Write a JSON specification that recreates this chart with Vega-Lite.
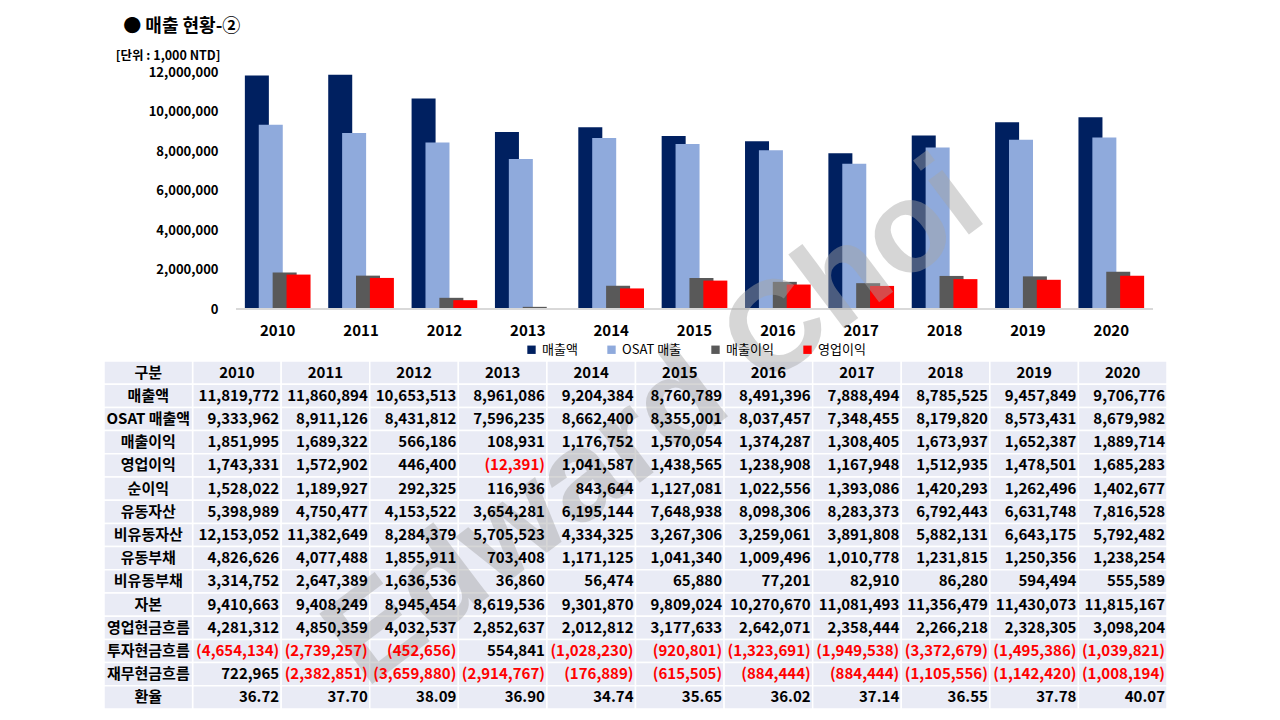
{
  "$schema": "https://vega.github.io/schema/vega-lite/v6.json",
  "padding": {"left": 103, "top": 18, "right": 113, "bottom": 8},
  "background": "white",
  "title": {
    "text": "● 매출 현황-②",
    "anchor": "start",
    "dx": 20,
    "offset": 13,
    "fontSize": 18,
    "fontWeight": "bold",
    "color": "#000000"
  },
  "datasets": {
    "bars": [
      {"year": "2010", "series": "매출액", "value": 11819772},
      {"year": "2011", "series": "매출액", "value": 11860894},
      {"year": "2012", "series": "매출액", "value": 10653513},
      {"year": "2013", "series": "매출액", "value": 8961086},
      {"year": "2014", "series": "매출액", "value": 9204384},
      {"year": "2015", "series": "매출액", "value": 8760789},
      {"year": "2016", "series": "매출액", "value": 8491396},
      {"year": "2017", "series": "매출액", "value": 7888494},
      {"year": "2018", "series": "매출액", "value": 8785525},
      {"year": "2019", "series": "매출액", "value": 9457849},
      {"year": "2020", "series": "매출액", "value": 9706776},
      {"year": "2010", "series": "OSAT 매출", "value": 9333962},
      {"year": "2011", "series": "OSAT 매출", "value": 8911126},
      {"year": "2012", "series": "OSAT 매출", "value": 8431812},
      {"year": "2013", "series": "OSAT 매출", "value": 7596235},
      {"year": "2014", "series": "OSAT 매출", "value": 8662400},
      {"year": "2015", "series": "OSAT 매출", "value": 8355001},
      {"year": "2016", "series": "OSAT 매출", "value": 8037457},
      {"year": "2017", "series": "OSAT 매출", "value": 7348455},
      {"year": "2018", "series": "OSAT 매출", "value": 8179820},
      {"year": "2019", "series": "OSAT 매출", "value": 8573431},
      {"year": "2020", "series": "OSAT 매출", "value": 8679982},
      {"year": "2010", "series": "매출이익", "value": 1851995},
      {"year": "2011", "series": "매출이익", "value": 1689322},
      {"year": "2012", "series": "매출이익", "value": 566186},
      {"year": "2013", "series": "매출이익", "value": 108931},
      {"year": "2014", "series": "매출이익", "value": 1176752},
      {"year": "2015", "series": "매출이익", "value": 1570054},
      {"year": "2016", "series": "매출이익", "value": 1374287},
      {"year": "2017", "series": "매출이익", "value": 1308405},
      {"year": "2018", "series": "매출이익", "value": 1673937},
      {"year": "2019", "series": "매출이익", "value": 1652387},
      {"year": "2020", "series": "매출이익", "value": 1889714},
      {"year": "2010", "series": "영업이익", "value": 1743331},
      {"year": "2011", "series": "영업이익", "value": 1572902},
      {"year": "2012", "series": "영업이익", "value": 446400},
      {"year": "2013", "series": "영업이익", "value": -12391},
      {"year": "2014", "series": "영업이익", "value": 1041587},
      {"year": "2015", "series": "영업이익", "value": 1438565},
      {"year": "2016", "series": "영업이익", "value": 1238908},
      {"year": "2017", "series": "영업이익", "value": 1167948},
      {"year": "2018", "series": "영업이익", "value": 1512935},
      {"year": "2019", "series": "영업이익", "value": 1478501},
      {"year": "2020", "series": "영업이익", "value": 1685283}
    ],
    "table": [
      {"row": "구분", "2010": "2010", "2011": "2011", "2012": "2012", "2013": "2013", "2014": "2014", "2015": "2015", "2016": "2016", "2017": "2017", "2018": "2018", "2019": "2019", "2020": "2020"},
      {"row": "매출액", "2010": "11,819,772", "2011": "11,860,894", "2012": "10,653,513", "2013": "8,961,086", "2014": "9,204,384", "2015": "8,760,789", "2016": "8,491,396", "2017": "7,888,494", "2018": "8,785,525", "2019": "9,457,849", "2020": "9,706,776"},
      {"row": "OSAT 매출액", "2010": "9,333,962", "2011": "8,911,126", "2012": "8,431,812", "2013": "7,596,235", "2014": "8,662,400", "2015": "8,355,001", "2016": "8,037,457", "2017": "7,348,455", "2018": "8,179,820", "2019": "8,573,431", "2020": "8,679,982"},
      {"row": "매출이익", "2010": "1,851,995", "2011": "1,689,322", "2012": "566,186", "2013": "108,931", "2014": "1,176,752", "2015": "1,570,054", "2016": "1,374,287", "2017": "1,308,405", "2018": "1,673,937", "2019": "1,652,387", "2020": "1,889,714"},
      {"row": "영업이익", "2010": "1,743,331", "2011": "1,572,902", "2012": "446,400", "2013": "(12,391)", "2014": "1,041,587", "2015": "1,438,565", "2016": "1,238,908", "2017": "1,167,948", "2018": "1,512,935", "2019": "1,478,501", "2020": "1,685,283"},
      {"row": "순이익", "2010": "1,528,022", "2011": "1,189,927", "2012": "292,325", "2013": "116,936", "2014": "843,644", "2015": "1,127,081", "2016": "1,022,556", "2017": "1,393,086", "2018": "1,420,293", "2019": "1,262,496", "2020": "1,402,677"},
      {"row": "유동자산", "2010": "5,398,989", "2011": "4,750,477", "2012": "4,153,522", "2013": "3,654,281", "2014": "6,195,144", "2015": "7,648,938", "2016": "8,098,306", "2017": "8,283,373", "2018": "6,792,443", "2019": "6,631,748", "2020": "7,816,528"},
      {"row": "비유동자산", "2010": "12,153,052", "2011": "11,382,649", "2012": "8,284,379", "2013": "5,705,523", "2014": "4,334,325", "2015": "3,267,306", "2016": "3,259,061", "2017": "3,891,808", "2018": "5,882,131", "2019": "6,643,175", "2020": "5,792,482"},
      {"row": "유동부채", "2010": "4,826,626", "2011": "4,077,488", "2012": "1,855,911", "2013": "703,408", "2014": "1,171,125", "2015": "1,041,340", "2016": "1,009,496", "2017": "1,010,778", "2018": "1,231,815", "2019": "1,250,356", "2020": "1,238,254"},
      {"row": "비유동부채", "2010": "3,314,752", "2011": "2,647,389", "2012": "1,636,536", "2013": "36,860", "2014": "56,474", "2015": "65,880", "2016": "77,201", "2017": "82,910", "2018": "86,280", "2019": "594,494", "2020": "555,589"},
      {"row": "자본", "2010": "9,410,663", "2011": "9,408,249", "2012": "8,945,454", "2013": "8,619,536", "2014": "9,301,870", "2015": "9,809,024", "2016": "10,270,670", "2017": "11,081,493", "2018": "11,356,479", "2019": "11,430,073", "2020": "11,815,167"},
      {"row": "영업현금흐름", "2010": "4,281,312", "2011": "4,850,359", "2012": "4,032,537", "2013": "2,852,637", "2014": "2,012,812", "2015": "3,177,633", "2016": "2,642,071", "2017": "2,358,444", "2018": "2,266,218", "2019": "2,328,305", "2020": "3,098,204"},
      {"row": "투자현금흐름", "2010": "(4,654,134)", "2011": "(2,739,257)", "2012": "(452,656)", "2013": "554,841", "2014": "(1,028,230)", "2015": "(920,801)", "2016": "(1,323,691)", "2017": "(1,949,538)", "2018": "(3,372,679)", "2019": "(1,495,386)", "2020": "(1,039,821)"},
      {"row": "재무현금흐름", "2010": "722,965", "2011": "(2,382,851)", "2012": "(3,659,880)", "2013": "(2,914,767)", "2014": "(176,889)", "2015": "(615,505)", "2016": "(884,444)", "2017": "(884,444)", "2018": "(1,105,556)", "2019": "(1,142,420)", "2020": "(1,008,194)"},
      {"row": "환율", "2010": "36.72", "2011": "37.70", "2012": "38.09", "2013": "36.90", "2014": "34.74", "2015": "35.65", "2016": "36.02", "2017": "37.14", "2018": "36.55", "2019": "37.78", "2020": "40.07"}
    ]
  },
  "vconcat": [
    {
      "width": 1063,
      "height": 237,
      "data": {"name": "bars"},
      "layer": [
        {
          "mark": {"type": "bar", "width": 24},
          "encoding": {
            "x": {
              "field": "year",
              "type": "ordinal",
              "scale": {"paddingInner": 0, "paddingOuter": 0.876, "align": 0.904},
              "axis": {
                "title": null,
                "domain": false,
                "ticks": false,
                "tickSize": 0,
                "labelAngle": 0,
                "labelPadding": 14,
                "labelFontSize": 15,
                "labelFontWeight": "bold",
                "labelColor": "#000000"
              }
            },
            "xOffset": {
              "field": "series",
              "type": "nominal",
              "sort": ["매출액", "OSAT 매출", "매출이익", "영업이익"],
              "scale": {"paddingInner": 0, "paddingOuter": 1.473}
            },
            "y": {
              "field": "value",
              "type": "quantitative",
              "stack": null,
              "scale": {"domain": [0, 12000000], "nice": false},
              "axis": {
                "title": "[단위 : 1,000 NTD]",
                "titleAngle": 0,
                "titleAlign": "right",
                "titleBaseline": "middle",
                "titleX": -16,
                "titleY": -17,
                "titleFontSize": 12.5,
                "titleFontWeight": "bold",
                "titleColor": "#000000",
                "offset": -132,
                "domain": false,
                "ticks": false,
                "tickSize": 0,
                "grid": false,
                "values": [0, 2000000, 4000000, 6000000, 8000000, 10000000, 12000000],
                "tickCount": 7,
                "format": ",d",
                "labelOverlap": false,
                "labelPadding": 18,
                "labelFontSize": 13,
                "labelFontWeight": "bold",
                "labelColor": "#000000"
              }
            },
            "color": {
              "field": "series",
              "type": "nominal",
              "scale": {
                "domain": ["매출액", "OSAT 매출", "매출이익", "영업이익"],
                "range": ["#002060", "#8faadc", "#595959", "#ff0000"]
              },
              "legend": {
                "title": null,
                "orient": "none",
                "legendX": 421,
                "legendY": 271,
                "direction": "horizontal",
                "padding": 0,
                "symbolType": "square",
                "symbolSize": 70,
                "symbolStrokeWidth": 0,
                "labelFontSize": 13,
                "labelColor": "#000000",
                "labelOffset": 4,
                "columnPadding": 27
              }
            }
          }
        },
        {
          "mark": {"type": "rule", "color": "#d9d9d9", "strokeWidth": 1.3},
          "encoding": {
            "x": {"datum": "2010", "bandPosition": 0},
            "x2": {"datum": "2020", "bandPosition": 1},
            "y": {"datum": 0}
          }
        }
      ]
    },
    {
      "width": 1063,
      "height": 348,
      "data": {"name": "table"},
      "layer": [
        {
          "transform": [{"fold": ["2010", "2011", "2012", "2013", "2014", "2015", "2016", "2017", "2018", "2019", "2020"], "as": ["col", "v"]}],
          "mark": {"type": "rect", "fill": "#e9ebf5", "stroke": "#ffffff", "strokeWidth": 1.5},
          "encoding": {
            "x": {
              "field": "col",
              "type": "nominal",
              "scale": {"domain": ["구분", "2010", "2011", "2012", "2013", "2014", "2015", "2016", "2017", "2018", "2019", "2020"], "paddingInner": 0, "paddingOuter": 0},
              "axis": null
            },
            "y": {
              "field": "row",
              "type": "nominal",
              "scale": {"domain": ["구분", "매출액", "OSAT 매출액", "매출이익", "영업이익", "순이익", "유동자산", "비유동자산", "유동부채", "비유동부채", "자본", "영업현금흐름", "투자현금흐름", "재무현금흐름", "환율"], "paddingInner": 0, "paddingOuter": 0},
              "axis": null
            }
          }
        },
        {
          "mark": {"type": "rect", "fill": "#e9ebf5", "stroke": "#ffffff", "strokeWidth": 1.5},
          "encoding": {
            "x": {"datum": "구분", "type": "nominal"},
            "y": {"field": "row", "type": "nominal"}
          }
        },
        {
          "data": {"values": [{"t": "Edward Choi"}]},
          "mark": {"type": "text", "font": "Liberation Sans", "fontSize": 128, "fontWeight": "bold", "angle": -37, "align": "center", "baseline": "middle", "color": "#a6a6a6", "opacity": 0.45},
          "encoding": {
            "x": {"datum": "2015", "type": "nominal", "bandPosition": 0.22},
            "y": {"datum": "OSAT 매출액", "type": "nominal", "bandPosition": 0.7},
            "text": {"field": "t"}
          }
        },
        {
          "transform": [
            {"filter": "datum.row !== '구분'"},
            {"fold": ["2010", "2011", "2012", "2013", "2014", "2015", "2016", "2017", "2018", "2019", "2020"], "as": ["col", "v"]}
          ],
          "mark": {"type": "text", "align": "right", "baseline": "middle", "dx": -2, "fontSize": 15, "fontWeight": "bold"},
          "encoding": {
            "x": {"field": "col", "type": "nominal", "bandPosition": 1},
            "y": {"field": "row", "type": "nominal"},
            "text": {"field": "v"},
            "color": {"condition": {"test": "indexof(datum.v, '(') >= 0", "value": "#ff0000"}, "value": "#000000"}
          }
        },
        {
          "transform": [
            {"filter": "datum.row === '구분'"},
            {"fold": ["2010", "2011", "2012", "2013", "2014", "2015", "2016", "2017", "2018", "2019", "2020"], "as": ["col", "v"]}
          ],
          "mark": {"type": "text", "align": "center", "baseline": "middle", "fontSize": 15, "fontWeight": "bold", "color": "#000000"},
          "encoding": {
            "x": {"field": "col", "type": "nominal"},
            "y": {"field": "row", "type": "nominal"},
            "text": {"field": "v"}
          }
        },
        {
          "mark": {"type": "text", "align": "center", "baseline": "middle", "fontSize": 15, "fontWeight": "bold", "color": "#000000"},
          "encoding": {
            "x": {"datum": "구분", "type": "nominal"},
            "y": {"field": "row", "type": "nominal"},
            "text": {"field": "row"}
          }
        }
      ]
    }
  ],
  "spacing": 52,
  "bounds": "flush",
  "config": {
    "font": "Noto Sans CJK KR",
    "view": {"stroke": null}
  }
}
